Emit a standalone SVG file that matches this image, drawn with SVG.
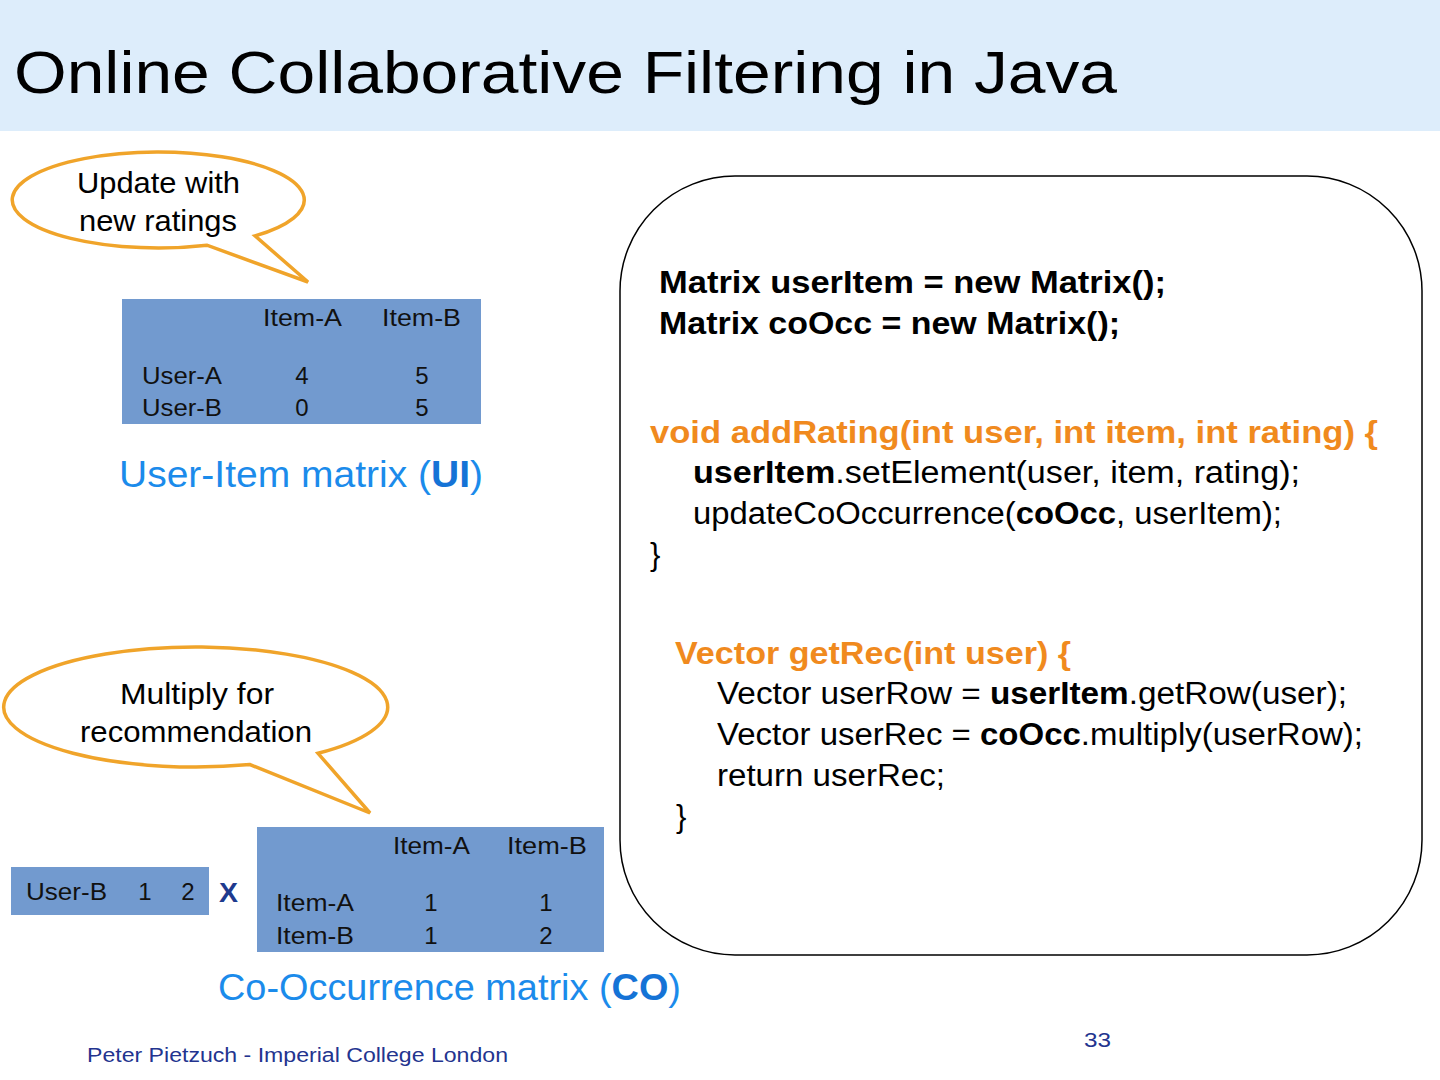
<svg xmlns="http://www.w3.org/2000/svg" width="1440" height="1080" viewBox="0 0 1440 1080">
<style>
text{font-family:"Liberation Sans Narrow","Liberation Sans",Arial,sans-serif;}
.title{font-size:60px;fill:#000;}
.bub{fill:#fff;stroke:#F0A42A;stroke-width:3.5;stroke-linejoin:miter;}
.bt{font-size:29px;fill:#000;}
.tbl{fill:#729ACF;}
.tt{font-size:24px;fill:#111;}
.num{font-size:24px;fill:#111;text-anchor:middle;}
.cap{font-size:36px;fill:#1B8BEB;}
.code{font-size:31px;fill:#000;}
.bold{font-weight:bold;}
.or{fill:#F08A1E;font-weight:bold;}
.foot{font-size:20px;fill:#23348F;}
</style>
<rect x="0" y="0" width="1440" height="131" fill="#DDEDFB"/>
<text class="title" x="14" y="93" textLength="1103" lengthAdjust="spacingAndGlyphs">Online Collaborative Filtering in Java</text>

<g id="bubble-update">
<path class="bub" d="M255,235.9 A146,48 0 1 0 207,245.2 L308,282 Z"/>
<text class="bt" x="77" y="193" textLength="163" lengthAdjust="spacingAndGlyphs">Update with</text>
<text class="bt" x="79" y="231" textLength="158" lengthAdjust="spacingAndGlyphs">new ratings</text>
</g>

<g id="ui-matrix">
<rect class="tbl" x="122" y="299" width="359" height="125"/>
<text class="tt" x="263" y="326" textLength="79" lengthAdjust="spacingAndGlyphs">Item-A</text>
<text class="tt" x="382" y="326" textLength="79" lengthAdjust="spacingAndGlyphs">Item-B</text>
<text class="tt" x="142" y="384" textLength="80" lengthAdjust="spacingAndGlyphs">User-A</text>
<text class="num" x="302" y="384">4</text>
<text class="num" x="422" y="384">5</text>
<text class="tt" x="142" y="416" textLength="80" lengthAdjust="spacingAndGlyphs">User-B</text>
<text class="num" x="302" y="416">0</text>
<text class="num" x="422" y="416">5</text>
</g>
<text class="cap" x="119" y="487" textLength="364" lengthAdjust="spacingAndGlyphs">User-Item matrix (<tspan class="bold" fill="#1573D6">UI</tspan>)</text>

<g id="bubble-multiply">
<path class="bub" d="M318,753.3 A192,60 0 1 0 250,764.6 L370,813 Z"/>
<text class="bt" x="120" y="704" textLength="154" lengthAdjust="spacingAndGlyphs">Multiply for</text>
<text class="bt" x="80" y="742" textLength="232" lengthAdjust="spacingAndGlyphs">recommendation</text>
</g>

<g id="user-vector">
<rect class="tbl" x="11" y="867" width="198" height="48"/>
<text class="tt" x="26" y="900" textLength="81" lengthAdjust="spacingAndGlyphs">User-B</text>
<text class="num" x="145" y="900">1</text>
<text class="num" x="188" y="900">2</text>
</g>
<text x="219" y="902" font-size="28" font-weight="bold" fill="#1E3A8E" textLength="19" lengthAdjust="spacingAndGlyphs">X</text>

<g id="co-matrix">
<rect class="tbl" x="257" y="827" width="347" height="125"/>
<text class="tt" x="393" y="854" textLength="77" lengthAdjust="spacingAndGlyphs">Item-A</text>
<text class="tt" x="507" y="854" textLength="80" lengthAdjust="spacingAndGlyphs">Item-B</text>
<text class="tt" x="276" y="911" textLength="78" lengthAdjust="spacingAndGlyphs">Item-A</text>
<text class="num" x="431" y="911">1</text>
<text class="num" x="546" y="911">1</text>
<text class="tt" x="276" y="944" textLength="78" lengthAdjust="spacingAndGlyphs">Item-B</text>
<text class="num" x="431" y="944">1</text>
<text class="num" x="546" y="944">2</text>
</g>
<text class="cap" x="218" y="1000" textLength="463" lengthAdjust="spacingAndGlyphs">Co-Occurrence matrix (<tspan class="bold" fill="#1573D6">CO</tspan>)</text>

<g id="code-box">
<rect x="620" y="176" width="802" height="779" rx="115" ry="115" fill="#fff" stroke="#000" stroke-width="1.5"/>
<text class="code bold" x="659" y="293" textLength="507" lengthAdjust="spacingAndGlyphs">Matrix userItem = new Matrix();</text>
<text class="code bold" x="659" y="334" textLength="461" lengthAdjust="spacingAndGlyphs">Matrix coOcc = new Matrix();</text>
<text class="code or" x="650" y="443" textLength="728" lengthAdjust="spacingAndGlyphs">void addRating(int user, int item, int rating) {</text>
<text class="code" x="693" y="483" textLength="607" lengthAdjust="spacingAndGlyphs"><tspan class="bold">userItem</tspan>.setElement(user, item, rating);</text>
<text class="code" x="693" y="524" textLength="589" lengthAdjust="spacingAndGlyphs">updateCoOccurrence(<tspan class="bold">coOcc</tspan>, userItem);</text>
<text class="code" x="650" y="565">}</text>
<text class="code or" x="675" y="664" textLength="396" lengthAdjust="spacingAndGlyphs">Vector getRec(int user) {</text>
<text class="code" x="717" y="704" textLength="630" lengthAdjust="spacingAndGlyphs">Vector userRow = <tspan class="bold">userItem</tspan>.getRow(user);</text>
<text class="code" x="717" y="745" textLength="646" lengthAdjust="spacingAndGlyphs">Vector userRec = <tspan class="bold">coOcc</tspan>.multiply(userRow);</text>
<text class="code" x="717" y="786" textLength="228" lengthAdjust="spacingAndGlyphs">return userRec;</text>
<text class="code" x="676" y="827">}</text>
</g>

<text class="foot" x="87" y="1062" textLength="421" lengthAdjust="spacingAndGlyphs">Peter Pietzuch - Imperial College London</text>
<text class="foot" x="1084" y="1047" textLength="27" lengthAdjust="spacingAndGlyphs">33</text>
</svg>
